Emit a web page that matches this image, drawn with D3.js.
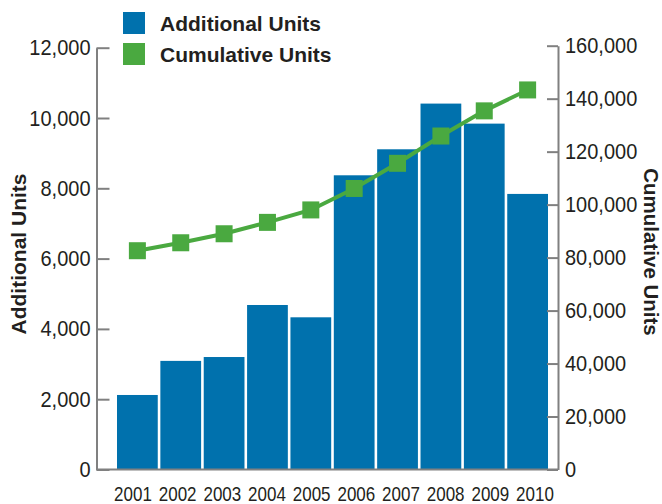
<!DOCTYPE html>
<html>
<head>
<meta charset="utf-8">
<script src="https://cdn.jsdelivr.net/npm/d3@7"></script>
<style>
  body { margin: 0; background: #fff; }
  text { font-family: "Liberation Sans", Arial, sans-serif; fill: #231f20; }
</style>
</head>
<body>
<div id="chart"></div>
<script>
(function() {
  var width = 662,
      height = 504;

  var years = ["2001", "2002", "2003", "2004", "2005", "2006", "2007", "2008", "2009", "2010"];
  var additional = [2120, 3090, 3200, 4680, 4330, 8370, 9110, 10410, 9840, 7840];
  var cumulative = [82600, 85600, 89000, 93300, 98000, 106100, 115600, 125900, 135400, 143300];
  var leftTicks = [0, 2000, 4000, 6000, 8000, 10000, 12000];
  var rightTicks = [0, 20000, 40000, 60000, 80000, 100000, 120000, 140000, 160000];

  var blue = "#0071ad",
      green = "#4aa940",
      gray = "#808080";

  var svg = d3.select("#chart")
    .append("svg")
    .attr("width", width)
    .attr("height", height);

  var x = d3.scaleBand()
    .domain(years)
    .range([117, 548])
    .paddingInner(0.06)
    .paddingOuter(0);

  // year labels are spaced a bit wider than the bars in the original
  var xLabel = d3.scalePoint()
    .domain(years)
    .range([133, 535]);

  var yLeft = d3.scaleLinear().domain([0, 12000]).range([469.5, 47.7]);
  var yRight = d3.scaleLinear().domain([0, 160000]).range([469.5, 45.7]);

  // bars
  svg.selectAll(".bar")
    .data(additional)
    .enter().append("rect")
    .attr("class", "bar")
    .attr("x", function(d, i) { return x(years[i]); })
    .attr("width", x.bandwidth())
    .attr("y", function(d) { return yLeft(d); })
    .attr("height", function(d) { return yLeft(0) - yLeft(d); })
    .attr("fill", blue);

  // left axis
  var leftAxis = svg.append("g")
    .attr("transform", "translate(96.5,0)")
    .call(d3.axisLeft(yLeft)
      .tickValues(leftTicks)
      .tickFormat(d3.format(","))
      .tickSizeInner(-13)
      .tickSizeOuter(0)
      .tickPadding(6));

  // right axis
  var rightAxis = svg.append("g")
    .attr("transform", "translate(558,0)")
    .call(d3.axisRight(yRight)
      .tickValues(rightTicks)
      .tickFormat(d3.format(","))
      .tickSizeInner(-11)
      .tickSizeOuter(0)
      .tickPadding(7));

  [leftAxis, rightAxis].forEach(function(g) {
    g.select(".domain").attr("stroke", gray).attr("stroke-width", 2);
    g.selectAll(".tick line").attr("stroke", gray).attr("stroke-width", 2);
    g.selectAll(".tick text")
      .attr("font-size", 20)
      .attr("font-family", "Liberation Sans, Arial, sans-serif")
      .attr("fill", "#231f20")
      .attr("transform", "scale(1,1.1)");
  });

  // bottom line
  svg.append("line")
    .attr("x1", 96.5).attr("x2", 558)
    .attr("y1", yLeft(0)).attr("y2", yLeft(0))
    .attr("stroke", gray)
    .attr("stroke-width", 2);

  // year labels (taller than wide in the original)
  svg.selectAll(".year")
    .data(years)
    .enter().append("text")
    .attr("class", "year")
    .attr("transform", function(d) { return "translate(" + xLabel(d) + ",501)scale(1,1.2)"; })
    .attr("text-anchor", "middle")
    .attr("font-size", 17)
    .text(function(d) { return d; });

  // cumulative line
  var line = d3.line()
    .x(function(d, i) { return x(years[i]) + x.bandwidth() / 2; })
    .y(function(d) { return yRight(d); });

  svg.append("path")
    .datum(cumulative)
    .attr("d", line)
    .attr("fill", "none")
    .attr("stroke", green)
    .attr("stroke-width", 4);

  var sq = 17;
  svg.selectAll(".pt")
    .data(cumulative)
    .enter().append("rect")
    .attr("class", "pt")
    .attr("x", function(d, i) { return x(years[i]) + x.bandwidth() / 2 - sq / 2; })
    .attr("y", function(d) { return yRight(d) - sq / 2; })
    .attr("width", sq)
    .attr("height", sq)
    .attr("fill", green);

  // axis titles
  svg.append("text")
    .attr("transform", "translate(26,254)rotate(-90)")
    .attr("text-anchor", "middle")
    .attr("font-size", 21)
    .attr("font-weight", "bold")
    .text("Additional Units");

  svg.append("text")
    .attr("transform", "translate(644,252)rotate(90)")
    .attr("text-anchor", "middle")
    .attr("font-size", 20.5)
    .attr("font-weight", "bold")
    .text("Cumulative Units");

  // legend
  var legend = [
    {label: "Additional Units", color: blue, y: 12},
    {label: "Cumulative Units", color: green, y: 43}
  ];

  var lg = svg.selectAll(".legend")
    .data(legend)
    .enter().append("g")
    .attr("class", "legend");

  lg.append("rect")
    .attr("x", 123)
    .attr("y", function(d) { return d.y; })
    .attr("width", 22)
    .attr("height", 22)
    .attr("fill", function(d) { return d.color; });

  lg.append("text")
    .attr("x", 160)
    .attr("y", function(d) { return d.y + 19; })
    .attr("font-size", 21)
    .attr("font-weight", "bold")
    .text(function(d) { return d.label; });
})();
</script>
</body>
</html>
